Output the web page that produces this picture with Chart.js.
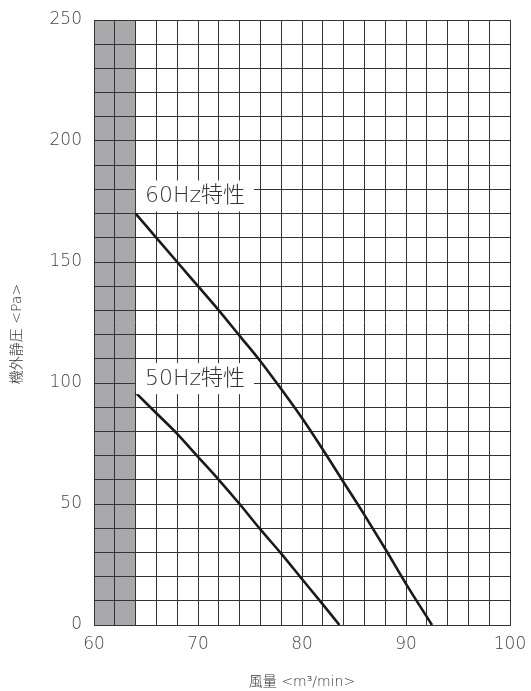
<!DOCTYPE html>
<html>
<head>
<meta charset="utf-8">
<script src="https://cdn.jsdelivr.net/npm/chart.js@4/dist/chart.umd.min.js"></script>
<style>
html,body{margin:0;padding:0;background:#fff;}
#wrap{width:531px;height:691px;position:relative;}
</style>
</head>
<body>
<div id="wrap"><canvas id="c" width="531" height="691"></canvas></div>
<script>
// Data
const airflow60 = [64, 66, 68, 70, 72, 74, 76, 78, 80, 82, 84, 86, 88, 90, 92.5];
const pressure60 = [170, 160, 150, 140, 130, 119.5, 109, 97.5, 85.5, 72.5, 59, 45.5, 31.5, 17, 0];
const airflow50 = [64, 66, 68, 70, 72, 74, 76, 78, 80, 82, 83.6];
const pressure50 = [96, 87.5, 79, 69.5, 60, 50, 39.5, 29.5, 19, 8.5, 0];
const seriesLabels = ['60Hz特性', '50Hz特性'];
const labelPos = [[64.9, 177.5], [64.9, 102]]; // label anchor (x, y) in data units
const shadedRange = [60, 64];
const xTickLabels = [60, 70, 80, 90, 100];
const yTickLabels = [0, 50, 100, 150, 200, 250];
const xTitle = '風量 <m³/min>';
const yTitle = '機外静圧 <Pa>';

const FONT = "'DejaVu Sans', 'Noto Sans CJK JP', sans-serif";
const GRID = '#333333';

const toPts = (xs, ys) => xs.map((x, i) => ({x: x, y: ys[i]}));

const decor = {
  id: 'decor',
  beforeDraw(chart) {
    const {ctx, chartArea, scales} = chart;
    const x0 = scales.x.getPixelForValue(shadedRange[0]);
    const x1 = scales.x.getPixelForValue(shadedRange[1]);
    ctx.save();
    ctx.fillStyle = '#a9a9ac';
    ctx.fillRect(x0, chartArea.top, x1 - x0, chartArea.bottom - chartArea.top);
    ctx.restore();
  },
  afterDatasetsDraw(chart) {
    const {ctx, scales} = chart;
    ctx.save();
    ctx.font = '200 22px ' + FONT;
    ctx.textBaseline = 'middle';
    seriesLabels.forEach((t, i) => {
      const px = scales.x.getPixelForValue(labelPos[i][0]);
      const py = scales.y.getPixelForValue(labelPos[i][1]);
      const w = ctx.measureText(t).width;
      ctx.fillStyle = '#ffffff';
      ctx.fillRect(px - 9, py - 15, w + 18, 31);
      ctx.fillStyle = '#333333';
      ctx.fillText(t, px, py + 1);
    });
    ctx.restore();
  },
  afterDraw(chart) {
    const {ctx, chartArea} = chart;
    ctx.save();
    ctx.fillStyle = '#333333';
    ctx.font = '200 14px ' + FONT;
    ctx.textAlign = 'center';
    ctx.textBaseline = 'middle';
    ctx.fillText(xTitle, (chartArea.left + chartArea.right) / 2, 682);
    ctx.translate(17, 334);
    ctx.rotate(-Math.PI / 2);
    ctx.fillText(yTitle, 0, 0);
    ctx.restore();
  }
};

new Chart(document.getElementById('c'), {
  type: 'line',
  data: {
    datasets: [
      {label: seriesLabels[0], data: toPts(airflow60, pressure60)},
      {label: seriesLabels[1], data: toPts(airflow50, pressure50)}
    ].map(d => Object.assign(d, {
      borderColor: '#1a1a1a', borderWidth: 2.6, pointRadius: 0,
      cubicInterpolationMode: 'monotone', fill: false
    }))
  },
  options: {
    responsive: false,
    animation: false,
    events: [],
    layout: {padding: {left: 0, top: 20, right: 21, bottom: 0}},
    plugins: {legend: {display: false}, tooltip: {enabled: false}},
    scales: {
      x: {
        type: 'linear',
        min: xTickLabels[0], max: xTickLabels[xTickLabels.length - 1],
        afterFit(s) { s.height = 66; s.paddingLeft = 0; s.paddingRight = 0; },
        grid: {color: GRID, lineWidth: 1, drawTicks: false},
        border: {color: GRID, width: 1},
        ticks: {
          stepSize: 2, padding: 9, color: '#444', maxRotation: 0, autoSkip: false,
          font: {family: FONT, size: 17, weight: 200},
          callback: v => xTickLabels.includes(v) ? String(v) : ''
        }
      },
      y: {
        min: yTickLabels[0], max: yTickLabels[yTickLabels.length - 1],
        afterFit(s) { s.width = 94; s.paddingTop = 0; s.paddingBottom = 0; },
        grid: {color: GRID, lineWidth: 1, drawTicks: false},
        border: {color: GRID, width: 1},
        ticks: {
          stepSize: 10, padding: 12, color: '#444', autoSkip: false,
          font: {family: FONT, size: 17, weight: 200},
          callback: v => yTickLabels.includes(v) ? String(v) : ''
        }
      }
    }
  },
  plugins: [decor]
});
</script>
</body>
</html>
